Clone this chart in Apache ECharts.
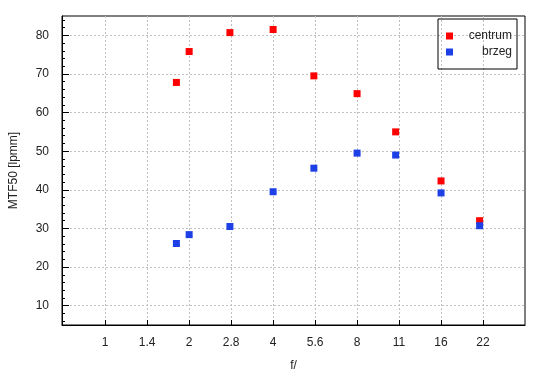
<!DOCTYPE html>
<html>
<head>
<meta charset="utf-8">
<script src="https://cdn.jsdelivr.net/npm/echarts@6/dist/echarts.min.js"></script>
<style>
html,body{margin:0;padding:0;background:#fff;}
#c{width:550px;height:380px;}
</style>
</head>
<body>
<div id="c"></div>
<script>
// f-stop tick labels (nominal)
var tickLabels = ['1', '1.4', '2', '2.8', '4', '5.6', '8', '11', '16', '22'];
var tickStops = [1, 1.414, 2, 2.828, 4, 5.657, 8, 11.31, 16, 22.63];
// measured apertures
var apertures = [1.8, 2, 2.8, 4, 5.6, 8, 11, 16, 22];
var centrum = [67.8, 75.8, 80.7, 81.5, 69.5, 64.9, 55.0, 42.3, 32.0];
var brzeg = [26.1, 28.4, 30.5, 39.5, 45.6, 49.5, 49.0, 39.2, 30.7];
var yMajor = [10, 20, 30, 40, 50, 60, 70, 80];
var yMinor = [6, 8, 12, 14, 16, 18, 22, 24, 26, 28, 32, 34, 36, 38, 42, 44, 46, 48,
              52, 54, 56, 58, 62, 64, 66, 68, 72, 74, 76, 78, 82, 84];

var xTicks = tickStops.map(function (f) { return Math.log2(f); });
function pts(vals) {
  return apertures.map(function (f, i) { return [Math.log2(f), vals[i]]; });
}
var font = 'Liberation Sans, Arial, sans-serif';
var txt = '#222';
var gridLine = { show: true, lineStyle: { color: '#c0c0c0', type: [2, 2], width: 1 } };

var chart = echarts.init(document.getElementById('c'), null, { renderer: 'canvas' });
chart.setOption({
  animation: false,
  backgroundColor: '#fff',
  textStyle: { fontFamily: font },
  grid: { left: 61, top: 16, right: 25, bottom: 55, show: true, borderColor: '#000', borderWidth: 1, containLabel: false },
  legend: {
    orient: 'vertical',
    left: 438, top: 19,
    padding: [11, 5, 11, 8],
    borderColor: '#000', borderWidth: 1,
    itemWidth: 7, itemHeight: 7, itemGap: 4,
    icon: 'rect',
    formatter: '{a|{name}}',
    textStyle: {
      fontFamily: font, fontSize: 12, color: txt,
      rich: { a: { width: 54, align: 'right', fontFamily: font, fontSize: 12, color: txt, lineHeight: 14 } }
    },
    data: ['centrum', 'brzeg']
  },
  xAxis: {
    type: 'value',
    min: Math.log2(0.7), max: 5,
    name: 'f/', nameLocation: 'middle', nameGap: 35,
    nameTextStyle: { fontFamily: font, fontSize: 12, color: txt },
    axisLine: { show: true, onZero: false, lineStyle: { color: '#000', width: 1 } },
    axisTick: { show: true, inside: true, length: 5, customValues: xTicks, lineStyle: { color: '#000' } },
    axisLabel: {
      customValues: xTicks, margin: 12, fontFamily: font, fontSize: 12, color: txt,
      formatter: function (v) {
        for (var i = 0; i < xTicks.length; i++) {
          if (Math.abs(xTicks[i] - v) < 1e-6) return tickLabels[i];
        }
        return '';
      }
    },
    splitLine: gridLine
  },
  yAxis: [{
    type: 'value',
    min: 5, max: 85,
    name: 'MTF50 [lpmm]', nameLocation: 'middle', nameGap: 42,
    nameTextStyle: { fontFamily: font, fontSize: 12, color: txt },
    axisLine: { show: true, onZero: false, lineStyle: { color: '#000', width: 1 } },
    axisTick: { show: true, inside: true, length: 7, customValues: yMajor, lineStyle: { color: '#000' } },
    axisLabel: { customValues: yMajor, margin: 13, fontFamily: font, fontSize: 12, color: txt },
    splitLine: gridLine
  }, {
    type: 'value',
    position: 'left',
    offset: 0,
    min: 5, max: 85,
    axisLine: { show: false, onZero: false },
    axisLabel: { show: false },
    splitLine: { show: false },
    axisTick: { show: true, inside: true, length: 3, customValues: yMinor, lineStyle: { color: '#000' } }
  }],
  series: [{
    name: 'centrum', type: 'scatter', symbol: 'rect', symbolSize: 7,
    itemStyle: { color: '#ff0000', opacity: 1 },
    data: pts(centrum)
  }, {
    name: 'brzeg', type: 'scatter', symbol: 'rect', symbolSize: 7,
    itemStyle: { color: '#1c3fe6', opacity: 1 },
    data: pts(brzeg)
  }]
});
</script>
</body>
</html>
